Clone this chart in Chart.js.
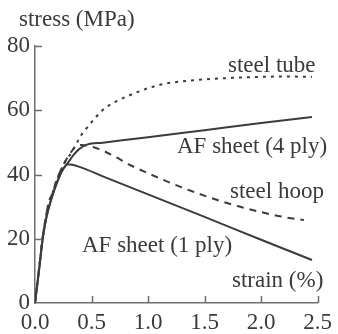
<!DOCTYPE html>
<html>
<head>
<meta charset="utf-8">
<script src="https://cdn.jsdelivr.net/npm/chart.js@4"></script>
<style>
  html, body { margin: 0; padding: 0; background: #fff; }
</style>
</head>
<body>
<canvas id="chart" width="338" height="334"></canvas>
<script>
// strain (%) / stress (MPa)
const ply1Strain = [0, 0.035, 0.07, 0.1, 0.15, 0.2, 0.24, 0.29, 0.4, 0.6, 1.0, 1.5, 2.0, 2.45];
const ply1Stress = [0, 10, 20.5, 26.5, 33, 38, 41.2, 43.2, 42.3, 39.4, 33.8, 26.8, 19.7, 13.4];

const ply4Strain = [0, 0.035, 0.07, 0.1, 0.15, 0.2, 0.24, 0.29, 0.34, 0.39, 0.46, 0.6, 1.0, 1.5, 2.0, 2.45];
const ply4Stress = [0, 10, 20.5, 26.5, 33, 38, 41.2, 43.6, 46, 47.9, 49.3, 49.9, 51.6, 53.8, 56, 57.9];

const tubeStrain = [0, 0.04, 0.07, 0.12, 0.15, 0.2, 0.26, 0.32, 0.36, 0.41, 0.48, 0.54, 0.62, 0.71, 0.8, 0.91, 1.02, 1.14, 1.3, 1.5, 1.75, 2.0, 2.2, 2.45];
const tubeStress = [0, 12, 21, 31, 33.8, 39, 43.6, 46.7, 49.2, 52.3, 55.4, 57.9, 60.7, 62.6, 64.1, 65.7, 67.1, 68.2, 69, 69.6, 70.1, 70.4, 70.5, 70.4];

const hoopStrain = [0, 0.04, 0.07, 0.12, 0.15, 0.2, 0.26, 0.32, 0.38, 0.45, 0.52, 0.59, 0.71, 0.85, 1.0, 1.15, 1.32, 1.49, 1.6, 1.8, 2.0, 2.18, 2.38];
const hoopStress = [0, 12, 21, 31, 33.8, 39, 43.6, 47, 49.2, 49.1, 48.5, 47.6, 45.5, 42.8, 40.4, 38.1, 35.7, 33.5, 32.2, 30.1, 28.3, 26.9, 25.8];

const xTicks = [0, 0.5, 1.0, 1.5, 2.0, 2.5];
const yTicks = [0, 20, 40, 60, 80];

const lineColor = '#3c3c3c';
const axisColor = '#6e6e6e';
const textColor = '#3a3a3a';
const serif = '"Liberation Serif", "Times New Roman", serif';

// text placed on the plot (left x, baseline y in px)
const curveLabels = [
  { text: 'stress (MPa)', x: 19, y: 26 },
  { text: 'steel tube', x: 228, y: 72 },
  { text: 'AF sheet (4 ply)', x: 177, y: 153 },
  { text: 'steel hoop', x: 230, y: 198 },
  { text: 'AF sheet (1 ply)', x: 82, y: 252 },
  { text: 'strain (%)', x: 232, y: 287 },
];

const toPoints = (xs, ys) => xs.map((v, i) => ({ x: v, y: ys[i] }));

const decorations = {
  id: 'decorations',
  afterDraw(chart) {
    const { ctx, scales: { x, y } } = chart;
    ctx.save();
    ctx.strokeStyle = axisColor;
    ctx.lineWidth = 1.5;
    ctx.beginPath();
    yTicks.slice(1).forEach((v) => {
      const py = Math.round(y.getPixelForValue(v)) + 0.5;
      ctx.moveTo(x.left, py);
      ctx.lineTo(x.left + 7, py);
    });
    xTicks.slice(1).forEach((v) => {
      const px = Math.round(x.getPixelForValue(v)) + 0.5;
      ctx.moveTo(px, y.bottom);
      ctx.lineTo(px, y.bottom - 7);
    });
    ctx.stroke();

    ctx.fillStyle = textColor;
    ctx.font = '23px ' + serif;
    ctx.textAlign = 'left';
    ctx.textBaseline = 'alphabetic';
    curveLabels.forEach((l) => ctx.fillText(l.text, l.x, l.y));
    ctx.restore();
  },
};

const lineStyle = {
  borderColor: lineColor,
  pointRadius: 0,
  fill: false,
  cubicInterpolationMode: 'monotone',
};

new Chart(document.getElementById('chart'), {
  type: 'line',
  data: {
    datasets: [
      { ...lineStyle, label: 'AF sheet (1 ply)', data: toPoints(ply1Strain, ply1Stress), borderWidth: 2 },
      { ...lineStyle, label: 'AF sheet (4 ply)', data: toPoints(ply4Strain, ply4Stress), borderWidth: 2 },
      { ...lineStyle, label: 'steel tube', data: toPoints(tubeStrain, tubeStress), borderWidth: 2, borderDash: [3, 5] },
      { ...lineStyle, label: 'steel hoop', data: toPoints(hoopStrain, hoopStress), borderWidth: 2, borderDash: [7, 6] },
    ],
  },
  options: {
    responsive: false,
    animation: false,
    layout: {
      padding: { top: 46, right: 14, left: 0, bottom: 0 },
    },
    plugins: {
      legend: { display: false },
      tooltip: { enabled: false },
    },
    scales: {
      x: {
        type: 'linear',
        min: 0,
        max: 2.5,
        afterFit: (s) => { s.height = 31; },
        afterBuildTicks: (s) => { s.ticks = xTicks.map((v) => ({ value: v })); },
        grid: { drawOnChartArea: false, drawTicks: false },
        border: { display: true, color: axisColor, width: 1.5 },
        ticks: {
          padding: 6,
          color: textColor,
          font: { family: serif, size: 23 },
          callback: (v) => Number(v).toFixed(1),
        },
      },
      y: {
        min: 0,
        max: 80,
        afterFit: (s) => { s.width = 35; },
        afterBuildTicks: (s) => { s.ticks = yTicks.map((v) => ({ value: v })); },
        grid: { drawOnChartArea: false, drawTicks: false },
        border: { display: true, color: axisColor, width: 1.5 },
        ticks: {
          padding: 5,
          color: textColor,
          font: { family: serif, size: 23 },
        },
      },
    },
  },
  plugins: [decorations],
});
</script>
</body>
</html>
